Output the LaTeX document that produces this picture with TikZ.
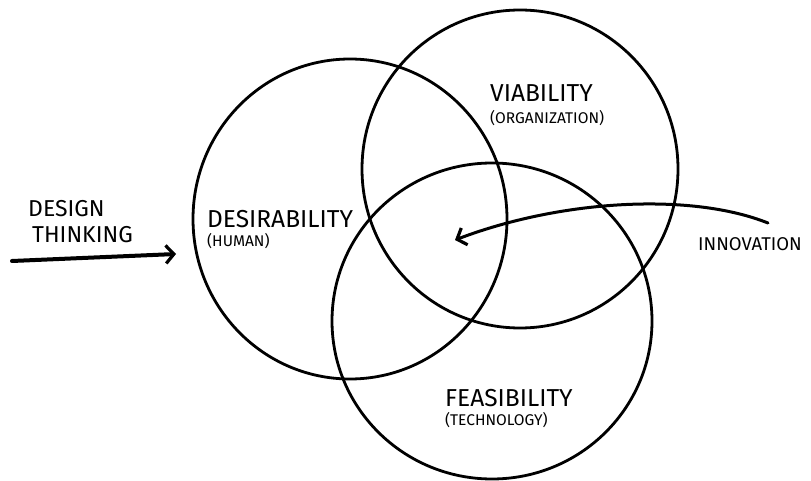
\documentclass[tikz,border=0pt]{standalone}
\usepackage{fontspec}
\setmainfont{Fira Sans}
\usetikzlibrary{shapes.geometric,arrows.meta}
\tikzset{
  ring/.style={ellipse, draw, line width=2.8pt, inner sep=0pt},
  big/.style={anchor=base west, inner sep=0pt, font=\fontsize{24.5}{26}\selectfont},
  small/.style={anchor=base west, inner sep=0pt, font=\fontsize{15.5}{17}\selectfont},
  side/.style={anchor=base west, inner sep=0pt, font=\fontsize{23}{25}\selectfont},
  inn/.style={anchor=base west, inner sep=0pt, font=\fontsize{18.5}{20}\selectfont},
  pointer/.style={line cap=round, -{Straight Barb[length=8pt,width=18pt,line width=3.2pt]}},
}
\begin{document}
\begin{tikzpicture}[x=1pt,y=-1pt]
\useasboundingbox (0,0) rectangle (811,481);
% circles
\node[ring, minimum width=314pt, minimum height=320pt] (desir) at (350,219) {};
\node[ring, minimum width=316pt, minimum height=318pt] (viab) at (520,169) {};
\node[ring, minimum width=320pt, minimum height=316pt] (feas) at (492,321) {};
% labels
\node[big] (dlab) at (207,227) {DESIRABILITY};
\node[small] (dsub) at (207,246) {(HUMAN)};
\node[big] (vlab) at (490,102) {VIABILITY};
\node[small] (vsub) at (490,124) {(ORGANIZATION)};
\node[big] (flab) at (445,406) {FEASIBILITY};
\node[small] (fsub) at (445,425) {(TECHNOLOGY)};
\node[side] (dt1) at (28,217) {DESIGN};
\node[side] (dt2) at (32,243) {THINKING};
\node[inn] (innov) at (698,250) {INNOVATION};
% arrows
\coordinate (dtstart) at (12,261);
\coordinate (dttip) at (176,254);
\draw[pointer, line width=4pt] (dtstart) -- (dttip);
\coordinate (instart) at (768,223);
\coordinate (intip) at (455,240);
\draw[pointer, line width=3pt] (instart) .. controls (690,192) and (560,200) .. (intip);
\end{tikzpicture}
\end{document}
